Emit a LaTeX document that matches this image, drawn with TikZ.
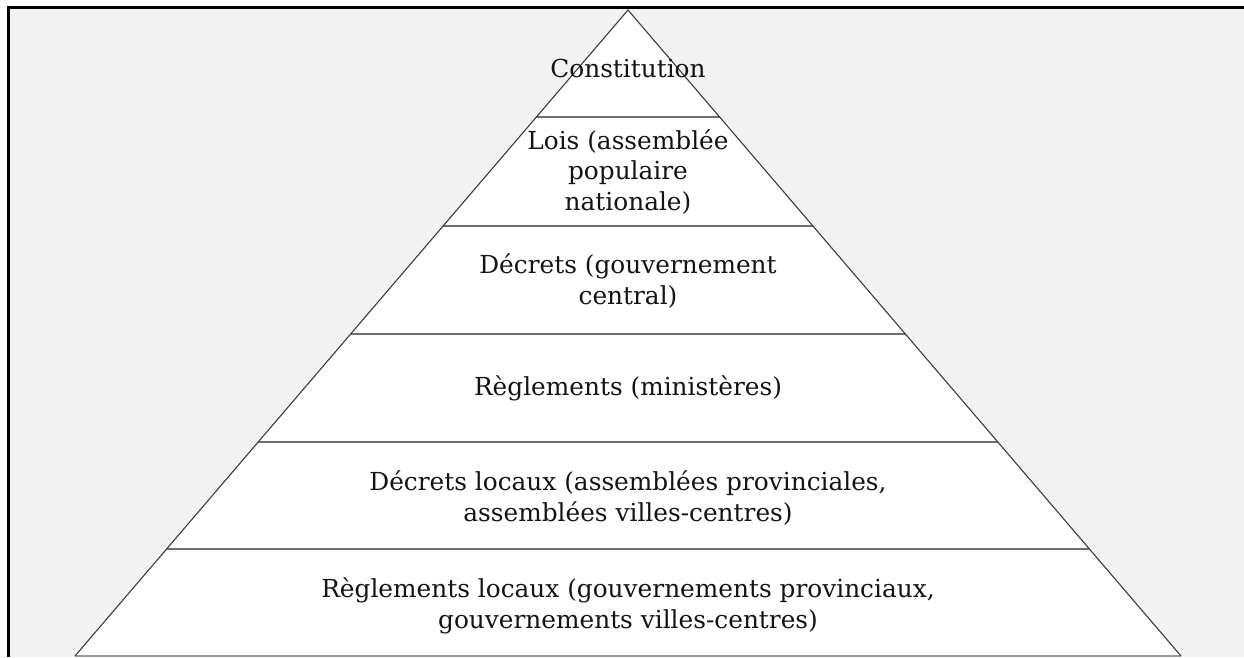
\documentclass[tikz,border=0pt]{standalone}
\usepackage{fontspec}
\setmainfont{DejaVu Serif}
\usetikzlibrary{calc}
\definecolor{bggray}{HTML}{F2F2F2}
\definecolor{sidegray}{HTML}{3C3C3C}
\definecolor{bandgray}{HTML}{6E6E6E}
\definecolor{basegray}{HTML}{9A9A9A}
\definecolor{txt}{HTML}{141414}
\tikzset{
  label/.style={align=center, text=txt, inner sep=0pt,
    font=\fontsize{24.8}{30.5}\selectfont},
  side/.style={draw=sidegray, line width=1.1pt},
  band/.style={draw=bandgray, line width=1.6pt},
  frame/.style={draw=black, line width=2.8pt}
}
\begin{document}
\begin{tikzpicture}[x=1pt,y=-1pt]
\useasboundingbox (0,0) rectangle (1244,657);
\fill[bggray] (7,7) rectangle (1244,657);
\coordinate (apex) at (628,10);
\coordinate (bl) at (75,656);
\coordinate (br) at (1181,656);
\fill[white] (apex) -- (bl) -- (br) -- cycle;
% band boundaries
\foreach \y/\n in {117/a,226/b,334/c,442/d,549/e}{
  \coordinate (L\n) at ($(apex)!{(\y-10)/646}!(bl)$);
  \coordinate (R\n) at ($(apex)!{(\y-10)/646}!(br)$);
  \draw[band] (L\n) -- (R\n);
}
\draw[draw=basegray, line width=1.6pt] (bl) -- (br);
\draw[side] (bl) -- (apex) -- (br);
% frame
\draw[frame] (8.2,657) -- (8.2,7.2) -- (1244,7.2);
% labels
\node[label] (t1) at (628,68) {Constitution};
\node[label] (t2) at (628,172) {Lois (assemblée\\populaire\\nationale)};
\node[label] (t3) at (628,281) {Décrets (gouvernement\\central)};
\node[label] (t4) at (628,388) {Règlements (ministères)};
\node[label] (t5) at (628,498) {Décrets locaux (assemblées provinciales,\\assemblées villes-centres)};
\node[label] (t6) at (628,606) {Règlements locaux (gouvernements provinciaux,\\gouvernements villes-centres)};
\end{tikzpicture}
\end{document}
